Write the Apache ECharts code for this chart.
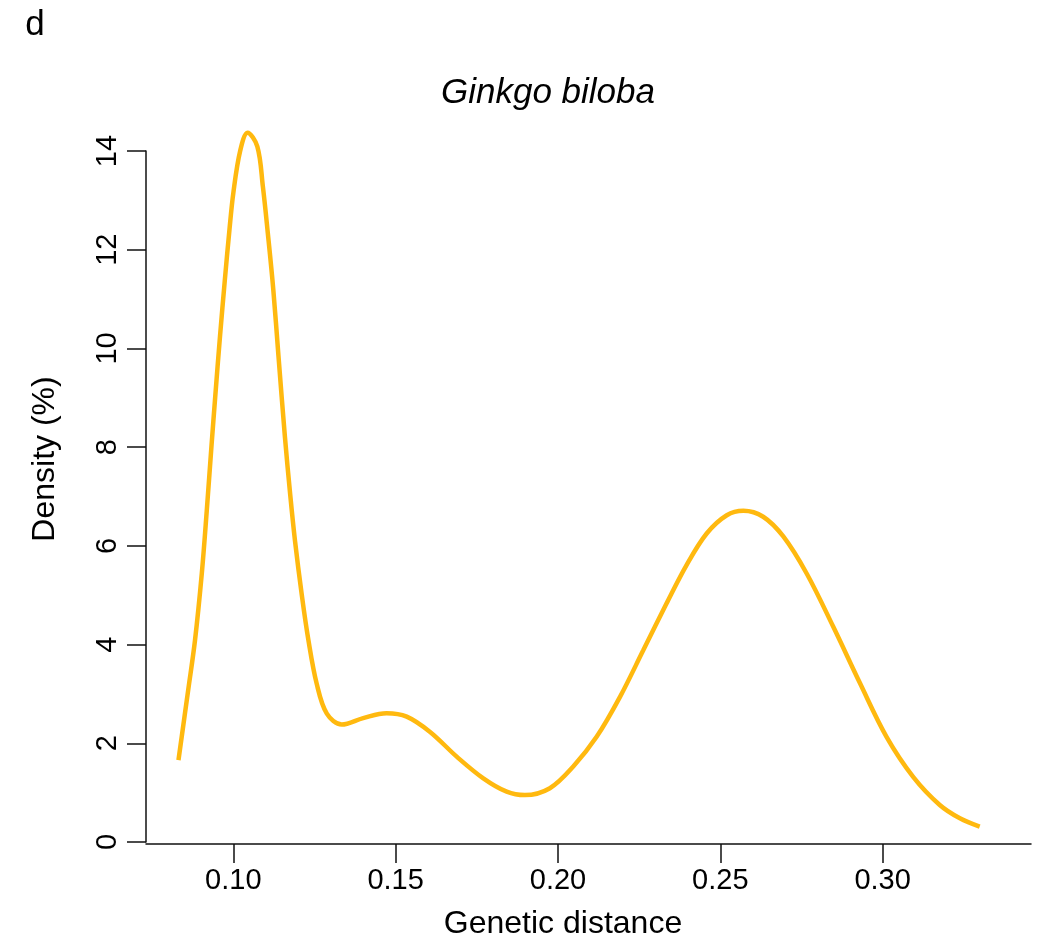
<!DOCTYPE html>
<html>
<head>
<meta charset="utf-8">
<script src="https://cdn.jsdelivr.net/npm/echarts@6/dist/echarts.min.js"></script>
<style>
  html, body { margin: 0; padding: 0; background: #fff; }
  #chart { width: 1039px; height: 948px; }
</style>
</head>
<body>
<div id="chart"></div>
<script>
  // density curve
  var distance = [0.0831, 0.0861, 0.0882, 0.0903, 0.0918, 0.0933, 0.0944, 0.0959, 0.0974, 0.0988,
    0.1000, 0.1021, 0.1044, 0.1074, 0.1091, 0.1106, 0.1123, 0.1139, 0.1159, 0.1175,
    0.1190, 0.1211, 0.1231, 0.1257, 0.1288, 0.1334, 0.1400, 0.1472, 0.1534, 0.1606,
    0.1688, 0.1770, 0.1842, 0.1898, 0.1975, 0.2047, 0.2119, 0.2191, 0.2263, 0.2335,
    0.2396, 0.2458, 0.2520, 0.2571, 0.2632, 0.2694, 0.2766, 0.2848, 0.2930, 0.3012,
    0.3094, 0.3176, 0.3238, 0.3299];
  var density = [1.66, 3.08, 4.09, 5.45, 6.70, 8.05, 9.00, 10.25, 11.40, 12.40,
    13.15, 14.00, 14.37, 14.09, 13.28, 12.35, 11.20, 9.85, 8.20, 7.05,
    6.10, 5.00, 4.10, 3.20, 2.60, 2.38, 2.51, 2.61, 2.54, 2.23,
    1.73, 1.29, 1.02, 0.95, 1.09, 1.53, 2.13, 2.94, 3.89, 4.84,
    5.61, 6.25, 6.62, 6.71, 6.59, 6.19, 5.44, 4.36, 3.22, 2.13,
    1.32, 0.75, 0.48, 0.31];
  var xTicks = [0.10, 0.15, 0.20, 0.25, 0.30];

  var chart = echarts.init(document.getElementById('chart'));
  var font = '"Liberation Sans", Arial, sans-serif';

  var pts = distance.map(function (d, i) { return [d, density[i]]; });

  chart.setOption({
    animation: false,
    backgroundColor: '#fff',
    grid: { left: 146, right: 8, top: 151, bottom: 106 },
    xAxis: {
      type: 'value',
      min: 0.0731,
      max: 0.3457,
      offset: 2,
      splitLine: { show: false },
      axisLine: { onZero: false, lineStyle: { color: '#111', width: 1.5 } },
      axisTick: { customValues: xTicks, length: 19, lineStyle: { color: '#111', width: 1.5 } },
      axisLabel: {
        customValues: xTicks,
        margin: 22,
        color: '#000',
        fontSize: 29,
        fontFamily: font,
        formatter: function (v) { return v.toFixed(2); }
      }
    },
    yAxis: {
      type: 'value',
      min: 0,
      max: 14,
      interval: 2,
      splitLine: { show: false },
      axisLine: { show: true, lineStyle: { color: '#111', width: 1.5 } },
      axisTick: { show: true, length: 19, lineStyle: { color: '#111', width: 1.5 } },
      axisLabel: {
        rotate: 90,
        margin: 24,
        color: '#000',
        fontSize: 29,
        fontFamily: font
      }
    },
    graphic: [
      { type: 'text', x: 35, y: 25, style: { text: 'd', font: '35px ' + font, fill: '#000', textAlign: 'center', textVerticalAlign: 'middle' } },
      { type: 'text', x: 548, y: 93, style: { text: 'Ginkgo biloba', font: 'italic 35px ' + font, fill: '#000', textAlign: 'center', textVerticalAlign: 'middle' } },
      { type: 'text', x: 563, y: 924, style: { text: 'Genetic distance', font: '32px ' + font, fill: '#000', textAlign: 'center', textVerticalAlign: 'middle' } },
      { type: 'text', x: 45, y: 459, rotation: Math.PI / 2, style: { text: 'Density (%)', font: '32px ' + font, fill: '#000', textAlign: 'center', textVerticalAlign: 'middle' } }
    ],
    series: [{
      type: 'line',
      data: pts,
      smooth: 0.35,
      clip: false,
      showSymbol: false,
      lineStyle: { color: '#FFB90F', width: 4.5 }
    }]
  });
</script>
</body>
</html>
